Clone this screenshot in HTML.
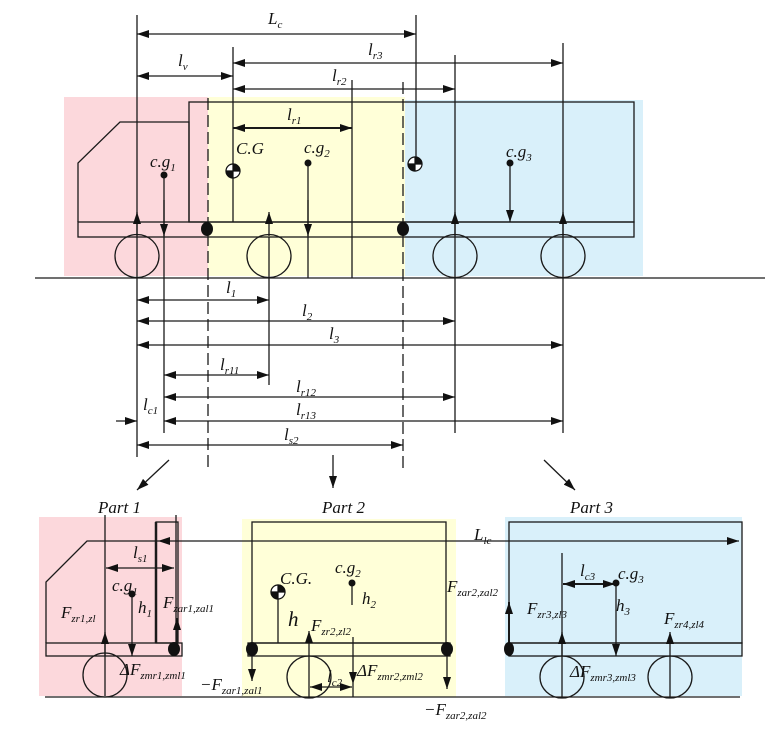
<!DOCTYPE html>
<html><head><meta charset="utf-8"><style>
html,body{margin:0;padding:0;background:#fff}
svg{display:block}
text{font-family:"Liberation Serif",serif;font-style:italic;font-size:17px;fill:#111}
.s{font-size:11px}
</style></head><body>
<svg width="765" height="729" viewBox="0 0 765 729" xmlns="http://www.w3.org/2000/svg">
<defs>
<marker id="a" viewBox="0 0 12 8" refX="12" refY="4" markerWidth="12" markerHeight="8" markerUnits="userSpaceOnUse" orient="auto-start-reverse"><path d="M0,0L12,4L0,8z" fill="#111"/></marker>
</defs>
<rect x="64" y="97" width="144" height="179" fill="#fcd8dc"/>
<rect x="208" y="97" width="197" height="179" fill="#ffffd8"/>
<rect x="405" y="100" width="238" height="176" fill="#d9f0fa"/>
<rect x="39" y="517" width="143" height="179" fill="#fcd8dc"/>
<rect x="242" y="519" width="214" height="178" fill="#ffffd8"/>
<rect x="505" y="517" width="237" height="179" fill="#d9f0fa"/>

<g stroke="#1a1a1a" stroke-width="1.3" fill="none">
<rect x="189" y="102" width="445" height="120"/>
<rect x="78" y="222" width="556" height="15"/>
<path d="M78,222V163L120,122H189V222"/>
<ellipse cx="137" cy="256" rx="22" ry="21.5"/>
<ellipse cx="269" cy="256" rx="22" ry="21.5"/>
<ellipse cx="455" cy="256" rx="22" ry="21.5"/>
<ellipse cx="563" cy="256" rx="22" ry="21.5"/>
<line x1="35" y1="278" x2="765" y2="278"/>
<line x1="137" y1="15" x2="137" y2="457"/>
<line x1="416" y1="15" x2="416" y2="160"/>
<line x1="233" y1="47" x2="233" y2="222"/>
<line x1="563" y1="43" x2="563" y2="433"/>
<line x1="455" y1="55" x2="455" y2="433"/>
<line x1="352" y1="80" x2="352" y2="278"/>
<line x1="164" y1="175" x2="164" y2="433"/>
<line x1="269" y1="237" x2="269" y2="385"/>
<line x1="308" y1="163" x2="308" y2="278"/>
<line x1="208" y1="98" x2="208" y2="470" stroke-dasharray="12,5"/>
<line x1="403" y1="82" x2="403" y2="470" stroke-dasharray="12,5"/>
<line x1="137" y1="34" x2="416" y2="34" marker-start="url(#a)" marker-end="url(#a)"/>
<line x1="137" y1="76" x2="233" y2="76" marker-start="url(#a)" marker-end="url(#a)"/>
<line x1="233" y1="63" x2="563" y2="63" marker-start="url(#a)" marker-end="url(#a)"/>
<line x1="233" y1="89" x2="455" y2="89" marker-start="url(#a)" marker-end="url(#a)"/>
<line x1="233" y1="128" x2="352" y2="128" stroke-width="2" marker-start="url(#a)" marker-end="url(#a)"/>
<line x1="137" y1="236" x2="137" y2="212" marker-end="url(#a)"/>
<line x1="269" y1="236" x2="269" y2="212" marker-end="url(#a)"/>
<line x1="455" y1="236" x2="455" y2="212" marker-end="url(#a)"/>
<line x1="563" y1="236" x2="563" y2="212" marker-end="url(#a)"/>
<line x1="164" y1="200" x2="164" y2="236" marker-end="url(#a)"/>
<line x1="308" y1="200" x2="308" y2="236" marker-end="url(#a)"/>
<line x1="510" y1="163" x2="510" y2="222" marker-end="url(#a)"/>
<line x1="137" y1="300" x2="269" y2="300" marker-start="url(#a)" marker-end="url(#a)"/>
<line x1="137" y1="321" x2="455" y2="321" marker-start="url(#a)" marker-end="url(#a)"/>
<line x1="137" y1="345" x2="563" y2="345" marker-start="url(#a)" marker-end="url(#a)"/>
<line x1="164" y1="375" x2="269" y2="375" marker-start="url(#a)" marker-end="url(#a)"/>
<line x1="164" y1="397" x2="455" y2="397" marker-start="url(#a)" marker-end="url(#a)"/>
<line x1="164" y1="421" x2="563" y2="421" marker-start="url(#a)" marker-end="url(#a)"/>
<line x1="116" y1="421" x2="137" y2="421" marker-end="url(#a)"/>
<line x1="137" y1="445" x2="403" y2="445" marker-start="url(#a)" marker-end="url(#a)"/>
<line x1="169" y1="460" x2="137" y2="490" marker-end="url(#a)"/>
<line x1="333" y1="455" x2="333" y2="488" marker-end="url(#a)"/>
<line x1="544" y1="460" x2="575" y2="490" marker-end="url(#a)"/>

<rect x="46" y="643" width="136" height="13"/>
<path d="M46,643V582L87,541H158"/>
<rect x="156" y="522" width="22" height="121"/>
<line x1="156" y1="522" x2="156" y2="643" stroke-width="2.5"/>
<line x1="176" y1="515" x2="176" y2="643"/>
<line x1="105" y1="515" x2="105" y2="696"/>
<ellipse cx="105" cy="675" rx="22" ry="22"/>
<line x1="158" y1="541" x2="739" y2="541" marker-start="url(#a)" marker-end="url(#a)"/>
<line x1="106" y1="568" x2="174" y2="568" marker-start="url(#a)" marker-end="url(#a)"/>
<line x1="132" y1="594" x2="132" y2="656" marker-end="url(#a)"/>
<line x1="105" y1="656" x2="105" y2="632" marker-end="url(#a)"/>
<line x1="177" y1="643" x2="177" y2="618" marker-end="url(#a)"/>
<rect x="252" y="522" width="194" height="121"/>
<rect x="248" y="643" width="202" height="13"/>
<ellipse cx="309" cy="677" rx="22" ry="21"/>
<line x1="278" y1="592" x2="278" y2="643"/>
<line x1="352" y1="583" x2="352" y2="605"/>
<line x1="309" y1="697" x2="309" y2="631" marker-end="url(#a)"/>
<line x1="353" y1="637" x2="353" y2="684" marker-end="url(#a)"/>
<line x1="353" y1="684" x2="353" y2="697"/>
<line x1="310" y1="687" x2="352" y2="687" marker-start="url(#a)" marker-end="url(#a)"/>
<line x1="252" y1="649" x2="252" y2="681" marker-end="url(#a)"/>
<line x1="447" y1="649" x2="447" y2="689" marker-end="url(#a)"/>
<rect x="509" y="522" width="233" height="121"/>
<rect x="509" y="643" width="233" height="13"/>
<ellipse cx="562" cy="677" rx="22" ry="21"/>
<ellipse cx="670" cy="677" rx="22" ry="21"/>
<line x1="562" y1="553" x2="562" y2="697"/>
<line x1="670" y1="656" x2="670" y2="697"/>
<line x1="562" y1="656" x2="562" y2="632" marker-end="url(#a)"/>
<line x1="670" y1="656" x2="670" y2="632" marker-end="url(#a)"/>
<line x1="509" y1="649" x2="509" y2="602" stroke-width="2" marker-end="url(#a)"/>
<line x1="563" y1="584" x2="615" y2="584" stroke-width="2" marker-start="url(#a)" marker-end="url(#a)"/>
<line x1="616" y1="583" x2="616" y2="656" marker-end="url(#a)"/>
<line x1="45" y1="697" x2="740" y2="697"/>
</g>
<g fill="#111">
<ellipse cx="207" cy="229" rx="6" ry="7"/>
<ellipse cx="403" cy="229" rx="6" ry="7"/>
<circle cx="164" cy="175" r="3.5"/><circle cx="308" cy="163" r="3.5"/><circle cx="510" cy="163" r="3.5"/>
<ellipse cx="174" cy="649" rx="6" ry="7"/>
<ellipse cx="252" cy="649" rx="6" ry="7"/>
<ellipse cx="447" cy="649" rx="6" ry="7"/>
<ellipse cx="509" cy="649" rx="5" ry="7"/>
<circle cx="132" cy="594" r="3.5"/><circle cx="352" cy="583" r="3.5"/><circle cx="616" cy="583" r="3.5"/>
</g>
<g stroke="#111" stroke-width="1.2">
<circle cx="233" cy="171" r="7" fill="#fff"/><path d="M233,164A7,7 0 0 1 240,171H233z M233,178A7,7 0 0 1 226,171H233z" fill="#111"/>
<circle cx="415" cy="164" r="7" fill="#fff"/><path d="M415,157A7,7 0 0 1 422,164H415z M415,171A7,7 0 0 1 408,164H415z" fill="#111"/>
<circle cx="278" cy="592" r="7" fill="#fff"/><path d="M278,585A7,7 0 0 1 285,592H278z M278,599A7,7 0 0 1 271,592H278z" fill="#111"/>
</g>
<text x="268" y="24">L<tspan class="s" dy="4">c</tspan></text>
<text x="178" y="66">l<tspan class="s" dy="4">v</tspan></text>
<text x="368" y="55">l<tspan class="s" dy="4">r3</tspan></text>
<text x="332" y="81">l<tspan class="s" dy="4">r2</tspan></text>
<text x="287" y="120">l<tspan class="s" dy="4">r1</tspan></text>
<text x="236" y="154">C.G</text>
<text x="150" y="167">c.g<tspan class="s" dy="4">1</tspan></text>
<text x="304" y="153">c.g<tspan class="s" dy="4">2</tspan></text>
<text x="506" y="157">c.g<tspan class="s" dy="4">3</tspan></text>
<text x="226" y="293">l<tspan class="s" dy="4">1</tspan></text>
<text x="302" y="316">l<tspan class="s" dy="4">2</tspan></text>
<text x="329" y="339">l<tspan class="s" dy="4">3</tspan></text>
<text x="220" y="370">l<tspan class="s" dy="4">r11</tspan></text>
<text x="296" y="392">l<tspan class="s" dy="4">r12</tspan></text>
<text x="143" y="410">l<tspan class="s" dy="4">c1</tspan></text>
<text x="296" y="415">l<tspan class="s" dy="4">r13</tspan></text>
<text x="284" y="440">l<tspan class="s" dy="4">s2</tspan></text>
<text x="98" y="513">Part 1</text>
<text x="322" y="513">Part  2</text>
<text x="570" y="513">Part 3</text>
<text x="474" y="540">L<tspan class="s" dy="4">lc</tspan></text>
<text x="133" y="558">l<tspan class="s" dy="4">s1</tspan></text>
<text x="112" y="591">c.g<tspan class="s" dy="4">1</tspan></text>
<text x="138" y="613">h<tspan class="s" dy="4">1</tspan></text>
<text x="61" y="618">F<tspan class="s" dy="4">zr1,zl</tspan></text>
<text x="163" y="608">F<tspan class="s" dy="4">zar1,zal1</tspan></text>
<text x="120" y="675">ΔF<tspan class="s" dy="4">zmr1,zml1</tspan></text>
<text x="200" y="690">−F<tspan class="s" dy="4">zar1,zal1</tspan></text>
<text x="280" y="584">C.G.</text>
<text x="335" y="573">c.g<tspan class="s" dy="4">2</tspan></text>
<text x="362" y="604">h<tspan class="s" dy="4">2</tspan></text>
<text x="288" y="626" style="font-size:21px">h</text>
<text x="311" y="631">F<tspan class="s" dy="4">zr2,zl2</tspan></text>
<text x="327" y="682">l<tspan class="s" dy="4">c2</tspan></text>
<text x="357" y="676">ΔF<tspan class="s" dy="4">zmr2,zml2</tspan></text>
<text x="447" y="592">F<tspan class="s" dy="4">zar2,zal2</tspan></text>
<text x="424" y="715">−F<tspan class="s" dy="4">zar2,zal2</tspan></text>
<text x="580" y="576">l<tspan class="s" dy="4">c3</tspan></text>
<text x="618" y="579">c.g<tspan class="s" dy="4">3</tspan></text>
<text x="616" y="611">h<tspan class="s" dy="4">3</tspan></text>
<text x="527" y="614">F<tspan class="s" dy="4">zr3,zl3</tspan></text>
<text x="664" y="624">F<tspan class="s" dy="4">zr4,zl4</tspan></text>
<text x="570" y="677">ΔF<tspan class="s" dy="4">zmr3,zml3</tspan></text>
</svg>
</body></html>
